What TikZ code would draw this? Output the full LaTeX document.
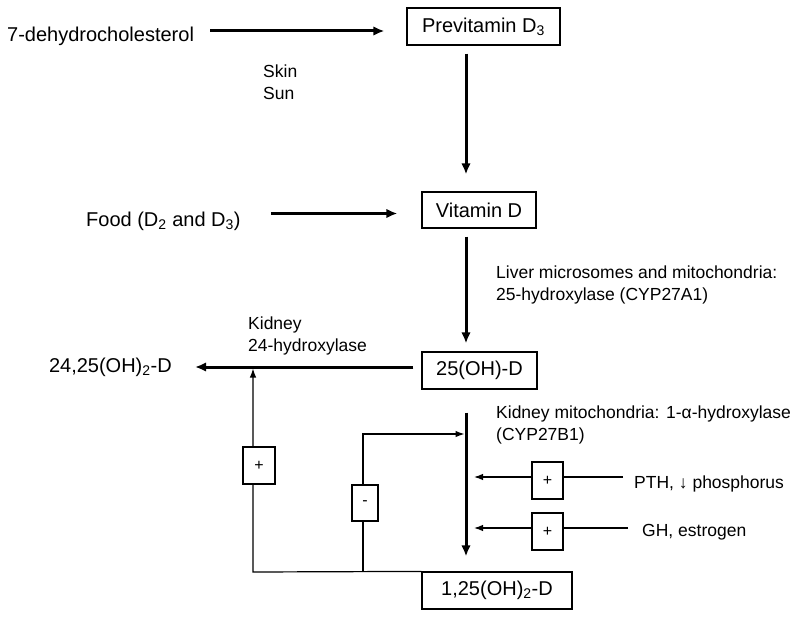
\documentclass[tikz,border=0pt]{standalone}
\usepackage{fontspec}
\setmainfont{Liberation Sans}
\usetikzlibrary{
	positioning,   %定位
	calc,          %计算
	arrows.meta    %箭头
}
\tikzset{
	every picture/.style={
		>=latex
}}
\tikzset{
	stepbox/.style={draw,line width=1.2pt,inner sep=0pt,font=\fontsize{20}{24}\selectfont},
	signbox/.style={draw,fill=white,line width=1.2pt,inner sep=0pt,minimum width=31pt,minimum height=37pt,font=\fontsize{16}{18}\selectfont},
	txt/.style={inner sep=0pt,font=\fontsize{20}{24}\selectfont},
	note/.style={inner sep=0pt,align=left,font=\fontsize{17.5}{22}\selectfont},
	major/.style={line width=3pt,-{Latex[length=11pt,width=9.5pt]}},
	minor/.style={line width=1.2pt,-{Latex[length=9pt,width=6.5pt]}}
}

\begin{document}
\begin{tikzpicture}[x=1pt,y=-1pt]
\useasboundingbox (0,0) rectangle (800,618);
%方框
\node[stepbox,minimum width=153pt,minimum height=37pt] (pre) at (483.5,26.5) {Previtamin D\textsubscript{3}};
\node[stepbox,minimum width=114pt,minimum height=36pt] (vitd) at (479,210) {Vitamin D};
\node[stepbox,minimum width=115pt,minimum height=37pt] (ohd) at (479.5,370.5) {25(OH)-D};
\node[stepbox,minimum width=150pt,minimum height=37pt] (diohd) at (497,590.5) {1,25(OH)\textsubscript{2}-D};
%文字
\node[txt,anchor=base west] (dhc) at (7,42) {7-dehydrocholesterol};
\node[txt,anchor=base west] (food) at (86,226) {Food (D\textsubscript{2} and D\textsubscript{3})};
\node[txt,anchor=base east] (tfo) at (172,372) {24,25(OH)\textsubscript{2}-D};
\node[note,anchor=north west] (skin) at (263,65) {Skin\\Sun};
\node[note,anchor=north west] (liver) at (496,266) {Liver microsomes and mitochondria:\\25-hydroxylase (CYP27A1)};
\node[note,anchor=north west] (kid24) at (248,317) {Kidney\\24-hydroxylase};
\node[note,anchor=north west] (kid1a) at (496,406) {Kidney mitochondria: 1-α-hydroxylase\\(CYP27B1)};
\node[note,anchor=base west] (pth) at (634,488) {PTH, ↓ phosphorus};
\node[note,anchor=base west] (gh) at (642,536) {GH, estrogen};

%主干
\coordinate (col) at (466,0);
\coordinate (preIn) at ([yshift=-4.5pt]pre.west);
\coordinate (vitIn) at ([yshift=-3.5pt]vitd.west);
\coordinate (ohdOut) at ([yshift=3.5pt]ohd.west);
\draw[major,shorten <=16pt,shorten >=22pt] (dhc.east |- preIn) -- (preIn);
\draw[major,shorten <=8pt,shorten >=17pt] (pre.south -| col) -- (vitd.north -| col);
\draw[major,shorten <=30pt,shorten >=24pt] (food.east |- vitIn) -- (vitIn);
\draw[major,shorten <=8pt,shorten >=8pt] (vitd.south -| col) -- (ohd.north -| col);
\draw[major,shorten <=8pt,shorten >=23pt] (ohdOut) -- (tfo.east |- ohdOut);
\draw[major,shorten <=23pt,shorten >=15pt] (ohd.south -| col) -- (diohd.north -| col);

%反馈
\coordinate (kneeL) at (253,572);
\coordinate (kneeM) at (363,572);
\coordinate (minusIn) at (464.5,434);
\coordinate (pthTip) at (474,477);
\coordinate (ghTip) at (474,528);
\draw[minor,shorten >=1.5pt] (diohd.north west) -- (kneeL) -- (kneeL |- ohdOut);
\draw[minor] (kneeM) |- (minusIn);
\draw[minor,shorten <=11pt] (pth.west |- pthTip) -- (pthTip);
\draw[minor,shorten <=14pt] (gh.west |- ghTip) -- (ghTip);

\node[signbox,minimum width=32pt] (fbPlus) at (259,465.5) {+};
\node[signbox,minimum width=26pt,minimum height=36pt] (fbMinus) at (365,503) {-};
\node[signbox] (pthPlus) at (547.5,480.5) {+};
\node[signbox] (ghPlus) at (547.5,531.5) {+};

\end{tikzpicture}
\end{document}
